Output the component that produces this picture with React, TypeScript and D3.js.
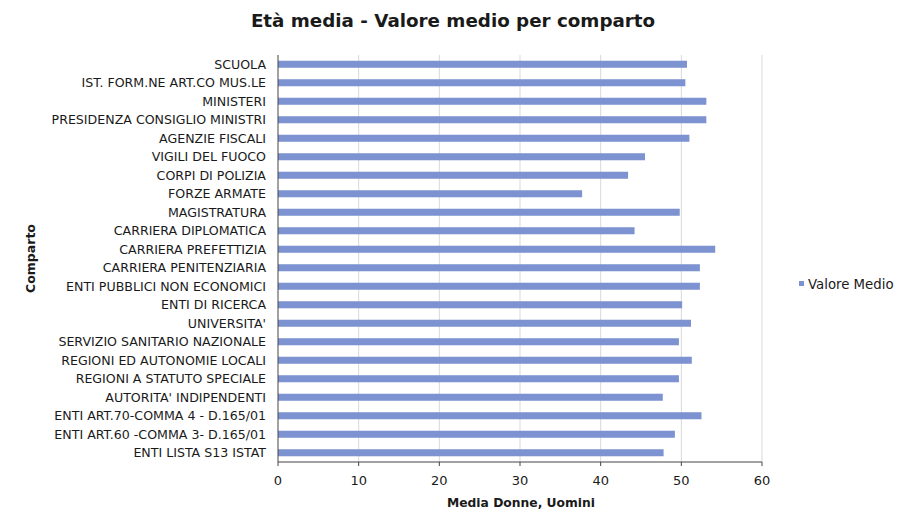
import React from "react";
import * as d3 from "d3";

const categories = [
  "SCUOLA",
  "IST. FORM.NE ART.CO MUS.LE",
  "MINISTERI",
  "PRESIDENZA CONSIGLIO MINISTRI",
  "AGENZIE FISCALI",
  "VIGILI DEL FUOCO",
  "CORPI DI POLIZIA",
  "FORZE ARMATE",
  "MAGISTRATURA",
  "CARRIERA DIPLOMATICA",
  "CARRIERA PREFETTIZIA",
  "CARRIERA PENITENZIARIA",
  "ENTI PUBBLICI NON ECONOMICI",
  "ENTI DI RICERCA",
  "UNIVERSITA'",
  "SERVIZIO SANITARIO NAZIONALE",
  "REGIONI ED AUTONOMIE LOCALI",
  "REGIONI A STATUTO SPECIALE",
  "AUTORITA' INDIPENDENTI",
  "ENTI ART.70-COMMA 4 - D.165/01",
  "ENTI ART.60 -COMMA 3- D.165/01",
  "ENTI LISTA S13 ISTAT",
];

const valoreMedio = [
  50.7, 50.5, 53.1, 53.1, 51.0, 45.5, 43.4, 37.7, 49.8, 44.2, 54.2, 52.3, 52.3,
  50.1, 51.2, 49.7, 51.3, 49.7, 47.7, 52.5, 49.2, 47.8,
];

const xTicks = [0, 10, 20, 30, 40, 50, 60];

const title = "Età media - Valore medio per comparto";
const xTitle = "Media Donne, Uomini";
const yTitle = "Comparto";
const seriesName = "Valore Medio";

export default function App() {
  const W = 913;
  const H = 512;
  const left = 278;
  const right = 762;
  const top = 55;
  const bottom = 462;
  const font = "'DejaVu Sans', sans-serif";
  const barColor = "#7d93d1";

  const x = d3.scaleLinear().domain([0, 60]).range([left, right]);
  const y = d3
    .scaleBand<string>()
    .domain(categories)
    .range([top, bottom])
    .paddingInner(0.62)
    .paddingOuter(0.31);

  return (
    <svg
      width={W}
      height={H}
      style={{ position: "absolute", left: 0, top: 0, background: "#fff" }}
    >
      <text
        x={453}
        y={27}
        textAnchor="middle"
        fontFamily={font}
        fontWeight="bold"
        fontSize={18.3}
        fill="#1a1a1a"
      >
        {title}
      </text>

      {xTicks.slice(1).map((t) => (
        <line
          key={"g" + t}
          x1={x(t)}
          x2={x(t)}
          y1={top}
          y2={bottom}
          stroke="#d9d9d9"
          strokeWidth={1}
        />
      ))}

      {categories.map((c, i) => (
        <rect
          key={c}
          x={x(0)}
          y={y(c)}
          width={x(valoreMedio[i]) - x(0)}
          height={y.bandwidth()}
          fill={barColor}
        />
      ))}

      <line x1={left} x2={left} y1={top} y2={bottom} stroke="#444" strokeWidth={1} />
      <line x1={left} x2={right} y1={bottom} y2={bottom} stroke="#444" strokeWidth={1} />
      {xTicks.map((t) => (
        <g key={"t" + t}>
          <line x1={x(t)} x2={x(t)} y1={bottom} y2={bottom + 4} stroke="#444" />
          <text
            x={x(t)}
            y={485}
            textAnchor="middle"
            fontFamily={font}
            fontSize={13}
            fill="#1a1a1a"
          >
            {t}
          </text>
        </g>
      ))}
      {categories.map((c) => (
        <text
          key={"yl" + c}
          x={266}
          y={(y(c) as number) + y.bandwidth() / 2}
          dy="0.35em"
          textAnchor="end"
          fontFamily={font}
          fontSize={12.6}
          fill="#1a1a1a"
        >
          {c}
        </text>
      ))}

      <text
        x={521}
        y={507}
        textAnchor="middle"
        fontFamily={font}
        fontWeight="bold"
        fontSize={12.3}
        fill="#1a1a1a"
      >
        {xTitle}
      </text>

      <text
        transform={`translate(35, ${(top + bottom) / 2}) rotate(-90)`}
        textAnchor="middle"
        fontFamily={font}
        fontWeight="bold"
        fontSize={12.5}
        fill="#1a1a1a"
      >
        {yTitle}
      </text>

      <rect x={799} y={281} width={5} height={5} fill={barColor} />
      <text
        x={808}
        y={284}
        dy="0.35em"
        fontFamily={font}
        fontSize={13.3}
        fill="#1a1a1a"
      >
        {seriesName}
      </text>
    </svg>
  );
}
